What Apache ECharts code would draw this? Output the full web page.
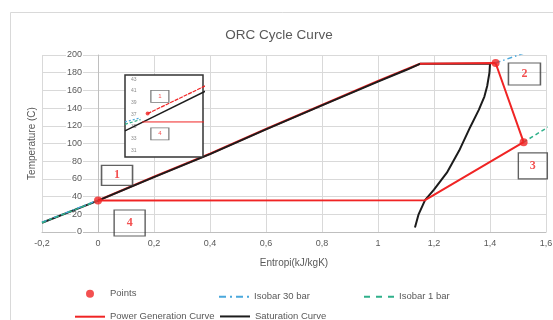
<!DOCTYPE html>
<html>
<head>
<meta charset="utf-8">
<script src="https://cdn.jsdelivr.net/npm/echarts@6/dist/echarts.min.js"></script>
<style>
html,body{margin:0;padding:0;background:#fff;}
#c{width:553px;height:320px;}
</style>
</head>
<body>
<div id="c"></div>
<script>
// ---- data (entropy kJ/kgK, temperature C) ----
const saturationCurve = [[-0.2,10.5],[0,35.5],[0.2,62],[0.4,88],[0.6,116],[0.8,143],[1.0,170],[1.1,183],[1.15,190],[1.40,190],[1.398,180],[1.39,165],[1.38,153],[1.36,138],[1.33,119],[1.29,92],[1.246,67],[1.2,48],[1.168,36],[1.145,20],[1.132,5]];
const pumpCurve = [[0,35.5],[0.2,62.5],[0.4,88.5],[0.6,116.5],[0.8,143.5],[1.0,170.5],[1.1,183.5],[1.15,190]];
const cycleCurve = [[1.15,190],[1.42,191],[1.52,101.5],[1.168,36],[0,35.5]];
const statePoints = [[0,35.5],[1.42,191],[1.52,101.5]];
const isobar30Low = [[-0.2,11],[0,36]];
const isobar30High = [[1.42,191],[1.52,202]];
const isobar1Low = [[-0.2,10.5],[0,35.5]];
const isobar1High = [[1.52,101.5],[1.62,121]];
const annotationLabels = ['1','2','3','4'];
const annotationAt = [[0.068,64],[1.523,178.6],[1.553,74.6],[0.113,10.2]];
const xRange = [-0.2, 1.6];
// inset (zoom near state 1)
const insetTicks = [31,33,35,37,39,41,43];
const insetPump = [[0.29,37.2],[1.05,42.0]];
const insetSat = [[0,34.3],[1.05,41.1]];
const insetCycle = [[0.22,35.8],[1.05,35.8]];
const insetPoint = [[0.29,37.2]];
const insetIsobar1 = [[0,35.4],[0.2,36.2]];
const insetIsobar30 = [[0,35.8],[0.2,36.5]];
const insetLabels = ['1','4'];
const insetLabelAt = [[0.447,40.1],[0.447,33.8]];
const xTicksFmt = v => String(Math.round(v*10)/10).replace('.',',');

const RED = '#f02424', BLACK = '#1c1c1c', BLUE = '#4aa8dc', GREEN = '#2fb08a', GRAY = '#595959';
const FONT = 'Liberation Sans';

const ICON_SOLID = 'path://M0,0H30V2H0Z';
const ICON_DASH = 'path://M0,0H6V2H0Z M12,0H18V2H12Z M24,0H30V2H24Z';
const ICON_DASHDOT = 'path://M0,0H7V2H0Z M11,0H13V2H11Z M17,0H24V2H17Z M28,0H30V2H28Z';

const W = 553, GL = 42, GR = 7;
const gridW = W - GL - GR;
// place the vertical axis where entropy = 0 (as in the source chart)
const yAxisShift = -gridW * (0 - xRange[0]) / (xRange[1] - xRange[0]);

const chart = echarts.init(document.getElementById('c'), null, {renderer:'canvas'});
const legendText = {color: GRAY, fontSize: 9.5, fontFamily: FONT};
function lg(name, icon, left, rowCenter, h) {
  return {data: [{name: name, icon: icon}], left: left, top: rowCenter - h / 2, padding: 0,
    itemWidth: 30, itemHeight: h, itemGap: 0, textStyle: legendText, selectedMode: false};
}

const option = {
  animation: false,
  backgroundColor: '#fff',
  textStyle: {fontFamily: FONT},
  title: {text: 'ORC Cycle Curve', left: 274, textAlign: 'center', top: 23, textStyle: {color: GRAY, fontSize: 13.5, fontWeight: 'normal', fontFamily: FONT}},
  graphic: [{type: 'rect', shape: {x: 10.5, y: 12.5, width: 560, height: 330}, style: {fill: null, stroke: '#d9d9d9', lineWidth: 1}, silent: true, z: -1}],
  legend: [
    lg('Points', 'circle', 86, 292.7, 8),
    lg('Isobar 30 bar', ICON_DASHDOT, 219, 292.7, 2),
    lg('Isobar 1 bar', ICON_DASH, 364, 292.7, 2),
    lg('Power Generation Curve', ICON_SOLID, 75, 312.7, 2),
    lg('Saturation Curve', ICON_SOLID, 220, 312.7, 2.5)
  ],
  grid: [
    {left: GL, right: GR, top: 55, bottom: 88, show: false, outerBoundsMode: 'none', containLabel: false},
    {left: 125, top: 75, width: 78, height: 82, show: true, backgroundColor: '#fff', borderColor: '#333', borderWidth: 1.5, z: 10, outerBoundsMode: 'none', containLabel: false}
  ],
  xAxis: [
    {type: 'value', gridIndex: 0, min: xRange[0], max: xRange[1], interval: 0.2,
     name: 'Entropi(kJ/kgK)', nameLocation: 'middle', nameGap: 26,
     nameTextStyle: {color: GRAY, fontSize: 10, fontFamily: FONT},
     axisLine: {show: true, onZero: false, lineStyle: {color: '#bfbfbf'}}, axisTick: {show: false},
     axisLabel: {color: GRAY, fontSize: 9, margin: 7, formatter: xTicksFmt, fontFamily: FONT},
     splitLine: {show: true, lineStyle: {color: '#d9d9d9', width: 1}}},
    {type: 'value', gridIndex: 1, min: 0, max: 1, show: false, splitLine: {show: false}, z: 11}
  ],
  yAxis: [
    {type: 'value', gridIndex: 0, min: 0, max: 200, interval: 20, offset: yAxisShift,
     name: 'Temperature (C)', nameLocation: 'middle', nameGap: 61, nameRotate: 90,
     nameTextStyle: {color: GRAY, fontSize: 10, fontFamily: FONT},
     axisLine: {show: true, onZero: false, lineStyle: {color: '#bfbfbf'}}, axisTick: {show: false},
     axisLabel: {color: GRAY, fontSize: 9, margin: 15, backgroundColor: '#fff', padding: [0, 1], fontFamily: FONT},
     splitLine: {show: true, lineStyle: {color: '#d9d9d9', width: 1}}},
    {type: 'value', gridIndex: 1, min: 29.9, max: 43.7, z: 11,
     axisLine: {show: false}, axisTick: {show: false}, splitLine: {show: false},
     axisLabel: {inside: true, customValues: insetTicks, color: '#8a8a8a', fontSize: 5, margin: 6, fontFamily: FONT}}
  ],
  series: [
    {name: 'Power Generation Curve', type: 'line', data: pumpCurve, symbol: 'none', z: 2,
     lineStyle: {color: RED, width: 2.2}, itemStyle: {color: RED}},
    {name: 'Saturation Curve', type: 'line', data: saturationCurve, symbol: 'none', z: 3,
     lineStyle: {color: BLACK, width: 2}, itemStyle: {color: BLACK}},
    {name: 'Power Generation Curve', type: 'line', data: cycleCurve, symbol: 'none', z: 4,
     lineStyle: {color: RED, width: 2}, itemStyle: {color: RED}},
    {name: 'Isobar 30 bar', type: 'line', data: isobar30Low, symbol: 'none', z: 5,
     lineStyle: {color: BLUE, width: 1.5, type: [5, 3, 1.5, 3]}, itemStyle: {color: BLUE}},
    {name: 'Isobar 30 bar', type: 'line', data: isobar30High, symbol: 'none', z: 5,
     lineStyle: {color: BLUE, width: 1.5, type: [5, 3, 1.5, 3]}, itemStyle: {color: BLUE}},
    {name: 'Isobar 1 bar', type: 'line', data: isobar1Low, symbol: 'none', z: 5,
     lineStyle: {color: GREEN, width: 1.5, type: [4, 3]}, itemStyle: {color: GREEN}},
    {name: 'Isobar 1 bar', type: 'line', data: isobar1High, symbol: 'none', z: 5,
     lineStyle: {color: GREEN, width: 1.5, type: [4, 3]}, itemStyle: {color: GREEN}},
    {name: 'Points', type: 'scatter', data: statePoints, symbol: 'circle', symbolSize: 8, z: 6,
     itemStyle: {color: RED}},
    {name: 'annotations', type: 'scatter', z: 7, silent: true, clip: false,
     data: annotationAt.map((p, i) => ({value: p, name: annotationLabels[i],
       symbolSize: [[31,20],[32,22],[29,26],[31,26]][i]})),
     symbol: 'rect',
     itemStyle: {color: 'rgba(255,255,255,0)', borderColor: '#3a3a3a', borderWidth: 1.3},
     label: {show: true, position: 'inside', formatter: p => p.name, color: RED, fontWeight: 'bold', fontSize: 12, fontFamily: 'Liberation Serif'}},
    // inset series
    {type: 'line', xAxisIndex: 1, yAxisIndex: 1, data: insetIsobar30, symbol: 'none', z: 12,
     lineStyle: {color: BLUE, width: 1.2, type: [2, 2]}},
    {type: 'line', xAxisIndex: 1, yAxisIndex: 1, data: insetIsobar1, symbol: 'none', z: 12,
     lineStyle: {color: GREEN, width: 1.2, type: [3, 2]}},
    {type: 'line', xAxisIndex: 1, yAxisIndex: 1, data: insetSat, symbol: 'none', z: 13,
     lineStyle: {color: BLACK, width: 1.4}},
    {type: 'line', xAxisIndex: 1, yAxisIndex: 1, data: insetPump, symbol: 'none', z: 13,
     lineStyle: {color: RED, width: 1.2, type: [4, 1]}},
    {type: 'line', xAxisIndex: 1, yAxisIndex: 1, data: insetCycle, symbol: 'none', z: 13,
     lineStyle: {color: RED, width: 1}},
    {type: 'scatter', xAxisIndex: 1, yAxisIndex: 1, data: insetPoint, symbol: 'circle', symbolSize: 4, z: 14,
     itemStyle: {color: RED}},
    {type: 'scatter', xAxisIndex: 1, yAxisIndex: 1, z: 14, silent: true,
     data: insetLabelAt.map((p, i) => ({value: p, name: insetLabels[i]})),
     symbol: 'rect', symbolSize: [18, 12],
     itemStyle: {color: 'rgba(255,255,255,0)', borderColor: '#555', borderWidth: 1},
     label: {show: true, position: 'inside', formatter: p => p.name, color: RED, fontSize: 6, fontFamily: FONT}}
  ]
};
chart.setOption(option);
</script>
</body>
</html>
